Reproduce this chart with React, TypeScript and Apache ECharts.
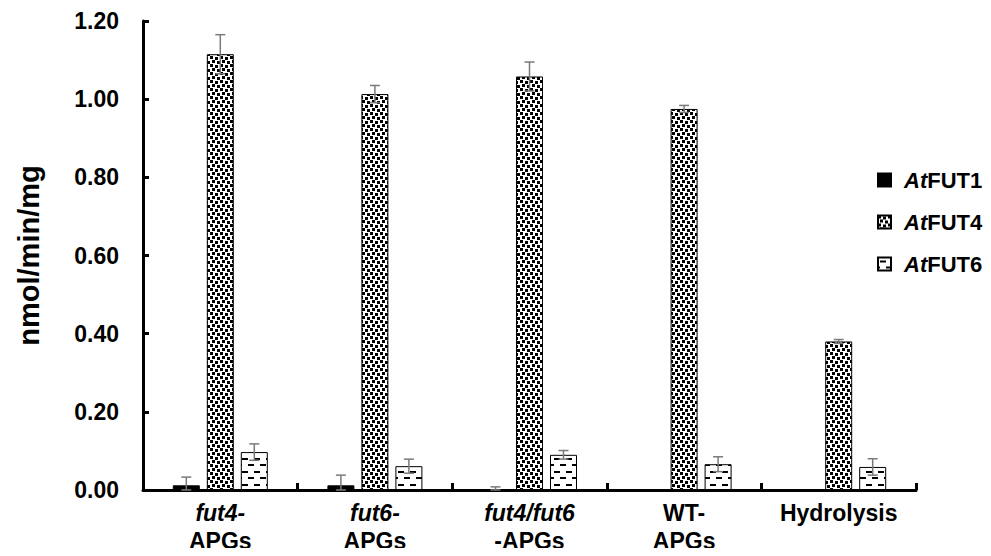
import React, { useEffect, useRef } from "react";
import * as echarts from "echarts";

const categories = ["fut4-|APGs", "fut6-|APGs", "fut4/fut6|-APGs", "WT-|APGs", "Hydrolysis"];
const seriesNames = ["AtFUT1", "AtFUT4", "AtFUT6"];
const fut1Values = [0.012, 0.012, 0.0, 0.0, 0.0];
const fut1Errors = [0.021, 0.026, 0.008, 0, 0];
const fut4Values = [1.115, 1.013, 1.058, 0.975, 0.38];
const fut4Errors = [0.05, 0.022, 0.037, 0.009, 0.005];
const fut6Values = [0.097, 0.061, 0.09, 0.066, 0.059];
const fut6Errors = [0.021, 0.018, 0.011, 0.019, 0.021];
const yTicks = { min: 0, max: 1.2, interval: 0.2 };

const FONT = "'Liberation Sans', Arial, sans-serif";
const BAR_W = 27;
const GAP_PX = 7;

function dotPattern(): HTMLCanvasElement {
  const c = document.createElement("canvas");
  c.width = 10;
  c.height = 8;
  const ctx = c.getContext("2d")!;
  ctx.fillStyle = "#ffffff";
  ctx.fillRect(0, 0, 10, 8);
  ctx.fillStyle = "#000000";
  ctx.fillRect(0, 0, 3, 3);
  ctx.fillRect(5, 1, 3, 3);
  ctx.fillRect(2, 4, 3, 3);
  ctx.fillRect(7, 5, 3, 3);
  return c;
}

function dashPattern(): HTMLCanvasElement {
  const c = document.createElement("canvas");
  c.width = 12;
  c.height = 13;
  const ctx = c.getContext("2d")!;
  ctx.fillStyle = "#ffffff";
  ctx.fillRect(0, 0, 12, 13);
  ctx.fillStyle = "#000000";
  ctx.fillRect(2, 3, 6, 2);
  ctx.fillRect(8, 9, 4, 2);
  ctx.fillRect(0, 9, 2, 2);
  return c;
}

function fmtCat(v: string): string {
  const parts = v.split("|");
  if (parts.length === 1) return "{b|" + parts[0] + "}";
  if (parts[0] === "WT-") return "{b|WT-}\n{b|" + parts[1] + "}";
  return "{i|" + parts[0] + "}\n{b|" + parts[1] + "}";
}

export default function App() {
  const ref = useRef<HTMLDivElement>(null);
  useEffect(() => {
    if (!ref.current) return;
    const chart = echarts.init(ref.current, undefined, { renderer: "svg" });
    const patterns = [
      "#000000",
      { image: dotPattern(), repeat: "repeat" },
      { image: dashPattern(), repeat: "repeat" },
    ];
    const values = [fut1Values, fut4Values, fut6Values];
    const errors = [fut1Errors, fut4Errors, fut6Errors];
    const offsets = [-(BAR_W + GAP_PX), 0, BAR_W + GAP_PX];

    const barSeries = seriesNames.map((name, si) => ({
      name,
      type: "bar",
      data: values[si],
      barWidth: BAR_W,
      barGap: (GAP_PX / BAR_W) * 100 + "%",
      itemStyle: { color: patterns[si] as any, borderColor: "#000", borderWidth: 1 },
      z: 2,
    }));

    const errSeries = seriesNames.map((name, si) => ({
      name: "err-" + name,
      type: "custom",
      z: 5,
      data: values[si].map((v, i) => [i, v, errors[si][i]]),
      encode: { x: 0, y: 1 },
      renderItem: (params: any, api: any) => {
        const idx = api.value(0);
        const v = api.value(1);
        const e = api.value(2);
        if (!e) return null;
        const x = api.coord([idx, 0])[0] + offsets[si];
        const yTop = api.coord([idx, v + e])[1];
        const yBot = api.coord([idx, Math.max(0, v - e)])[1];
        const cap = 5;
        const st = { stroke: "#7a7a7a", lineWidth: 1.5 };
        return {
          type: "group",
          children: [
            { type: "line", shape: { x1: x, y1: yTop, x2: x, y2: yBot }, style: st },
            { type: "line", shape: { x1: x - cap, y1: yTop, x2: x + cap, y2: yTop }, style: st },
            { type: "line", shape: { x1: x - cap, y1: yBot, x2: x + cap, y2: yBot }, style: st },
          ],
        };
      },
    }));

    const richLabel = {
      i: { fontStyle: "italic", fontWeight: "bold", fontSize: 23, fontFamily: FONT, color: "#000", lineHeight: 28 },
      b: { fontWeight: "bold", fontSize: 23, fontFamily: FONT, color: "#000", lineHeight: 28 },
    };

    chart.setOption({
      animation: false,
      backgroundColor: "#ffffff",
      textStyle: { fontFamily: FONT },
      grid: { left: 143, right: 75, top: 21, bottom: 66 },
      legend: {
        data: seriesNames.map((n) => ({ name: n, icon: "rect" })),
        orient: "vertical",
        left: 872,
        top: 164,
        itemWidth: 13,
        itemHeight: 13,
        itemGap: 20,
        selectedMode: false,
        formatter: (n: string) => "{i|At}{b|" + n.slice(2) + "}",
        textStyle: {
          padding: [0, 0, 0, 8],
          rich: {
            i: { fontStyle: "italic", fontWeight: "bold", fontSize: 22, fontFamily: FONT, color: "#000", lineHeight: 26 },
            b: { fontWeight: "bold", fontSize: 22, fontFamily: FONT, color: "#000", lineHeight: 26 },
          },
        },
      },
      xAxis: {
        type: "category",
        data: categories,
        axisLine: { lineStyle: { color: "#000", width: 3 } },
        axisTick: { show: true, inside: true, length: 7, lineStyle: { color: "#000", width: 3 } },
        axisLabel: { interval: 0, margin: 9, formatter: fmtCat, rich: richLabel },
      },
      yAxis: {
        type: "value",
        min: yTicks.min,
        max: yTicks.max,
        interval: yTicks.interval,
        name: "nmol/min/mg",
        nameLocation: "middle",
        nameGap: 100,
        nameTextStyle: { fontSize: 29, fontWeight: "bold", color: "#000", fontFamily: FONT },
        axisLine: { show: true, lineStyle: { color: "#000", width: 3 } },
        axisTick: { show: true, inside: true, length: 6, lineStyle: { color: "#000", width: 3 } },
        splitLine: { show: false },
        axisLabel: {
          margin: 24,
          fontSize: 23,
          fontWeight: "bold",
          color: "#000",
          fontFamily: FONT,
          formatter: (v: number) => v.toFixed(2),
        },
      },
      series: [...barSeries, ...errSeries],
    });
    return () => chart.dispose();
  }, []);
  return <div ref={ref} style={{ width: 991, height: 556, margin: -8 }} />;
}
